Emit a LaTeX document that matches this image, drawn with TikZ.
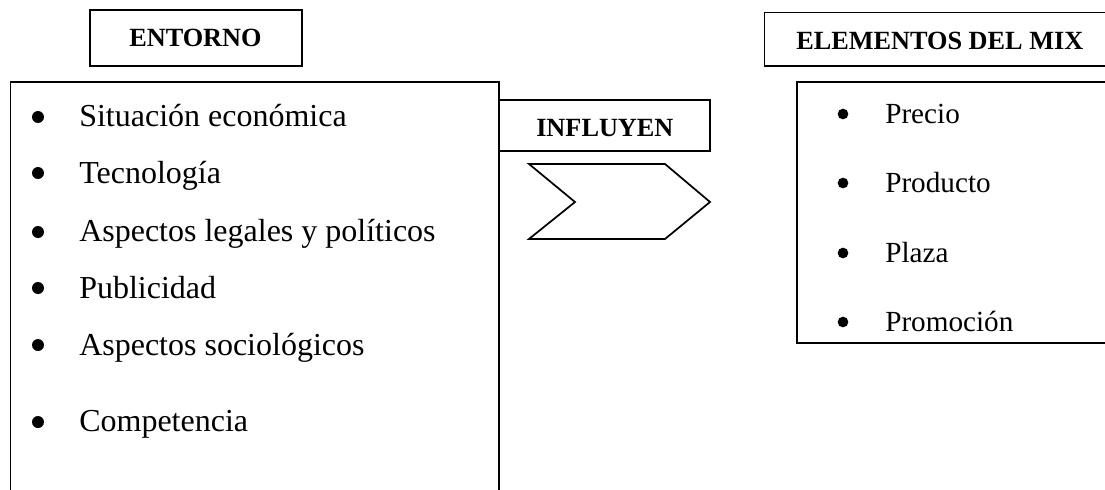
\documentclass[tikz,border=0pt]{standalone}
\usepackage{fontspec}
\setmainfont{Liberation Serif}
\begin{document}
\begin{tikzpicture}[x=0.75pt,y=-0.75pt,
  frame/.style={draw=black,line width=1.3pt},
  head/.style={anchor=base west,inner sep=0pt,font=\fontsize{19.7pt}{22pt}\selectfont\bfseries},
  leftitem/.style={anchor=base west,inner sep=0pt,font=\fontsize{24pt}{28pt}\selectfont},
  rightitem/.style={anchor=base west,inner sep=0pt,font=\fontsize{21.9pt}{26pt}\selectfont},
  leftdot/.style={circle,fill=black,inner sep=0pt,minimum size=9pt},
  rightdot/.style={circle,fill=black,inner sep=0pt,minimum size=8pt}]
\useasboundingbox (0,0) rectangle (1105,489);
\begin{scope}
\clip (0,0) rectangle (1105,489);
\draw[frame] (90,10) rectangle (302,66);
\draw[frame] (10.5,520) -- (10.5,82) -- (499,82) -- (499,520);
\draw[frame] (499,100) -- (710,100) -- (710,151) -- (499,151);
\draw[frame,line join=miter] (529,164) -- (665,164) -- (710,202) -- (665,239) -- (529,239) -- (575,202) -- cycle;
\draw[frame] (1120,12.5) -- (764.5,12.5) -- (764.5,66) -- (1120,66);
\draw[frame] (1120,82) -- (797,82) -- (797,343) -- (1120,343);
\end{scope}
\node[head] (entorno) at (129,46) {ENTORNO};
\node[head] (elementos) at (796,49) {ELEMENTOS DEL MIX};
\node[head] (influyen) at (536,136) {INFLUYEN};
\node[leftdot] (d1) at (38,117) {};
\node[leftdot] (d2) at (38,173) {};
\node[leftdot] (d3) at (38,232) {};
\node[leftdot] (d4) at (38,288) {};
\node[leftdot] (d5) at (38,345) {};
\node[leftdot] (d6) at (38,422) {};
\node[leftitem] (l1) at (79,126) {Situación económica};
\node[leftitem] (l2) at (79,183) {Tecnología};
\node[leftitem] (l3) at (79,241) {Aspectos legales y políticos};
\node[leftitem] (l4) at (79,298) {Publicidad};
\node[leftitem] (l5) at (79,355) {Aspectos sociológicos};
\node[leftitem] (l6) at (79,431) {Competencia};
\node[rightdot] (r1) at (843,114) {};
\node[rightdot] (r2) at (843,183) {};
\node[rightdot] (r3) at (843,253) {};
\node[rightdot] (r4) at (843,322) {};
\node[rightitem] (p1) at (885,123) {Precio};
\node[rightitem] (p2) at (885,192) {Producto};
\node[rightitem] (p3) at (885,262) {Plaza};
\node[rightitem] (p4) at (885,331) {Promoción};
\end{tikzpicture}
\end{document}
